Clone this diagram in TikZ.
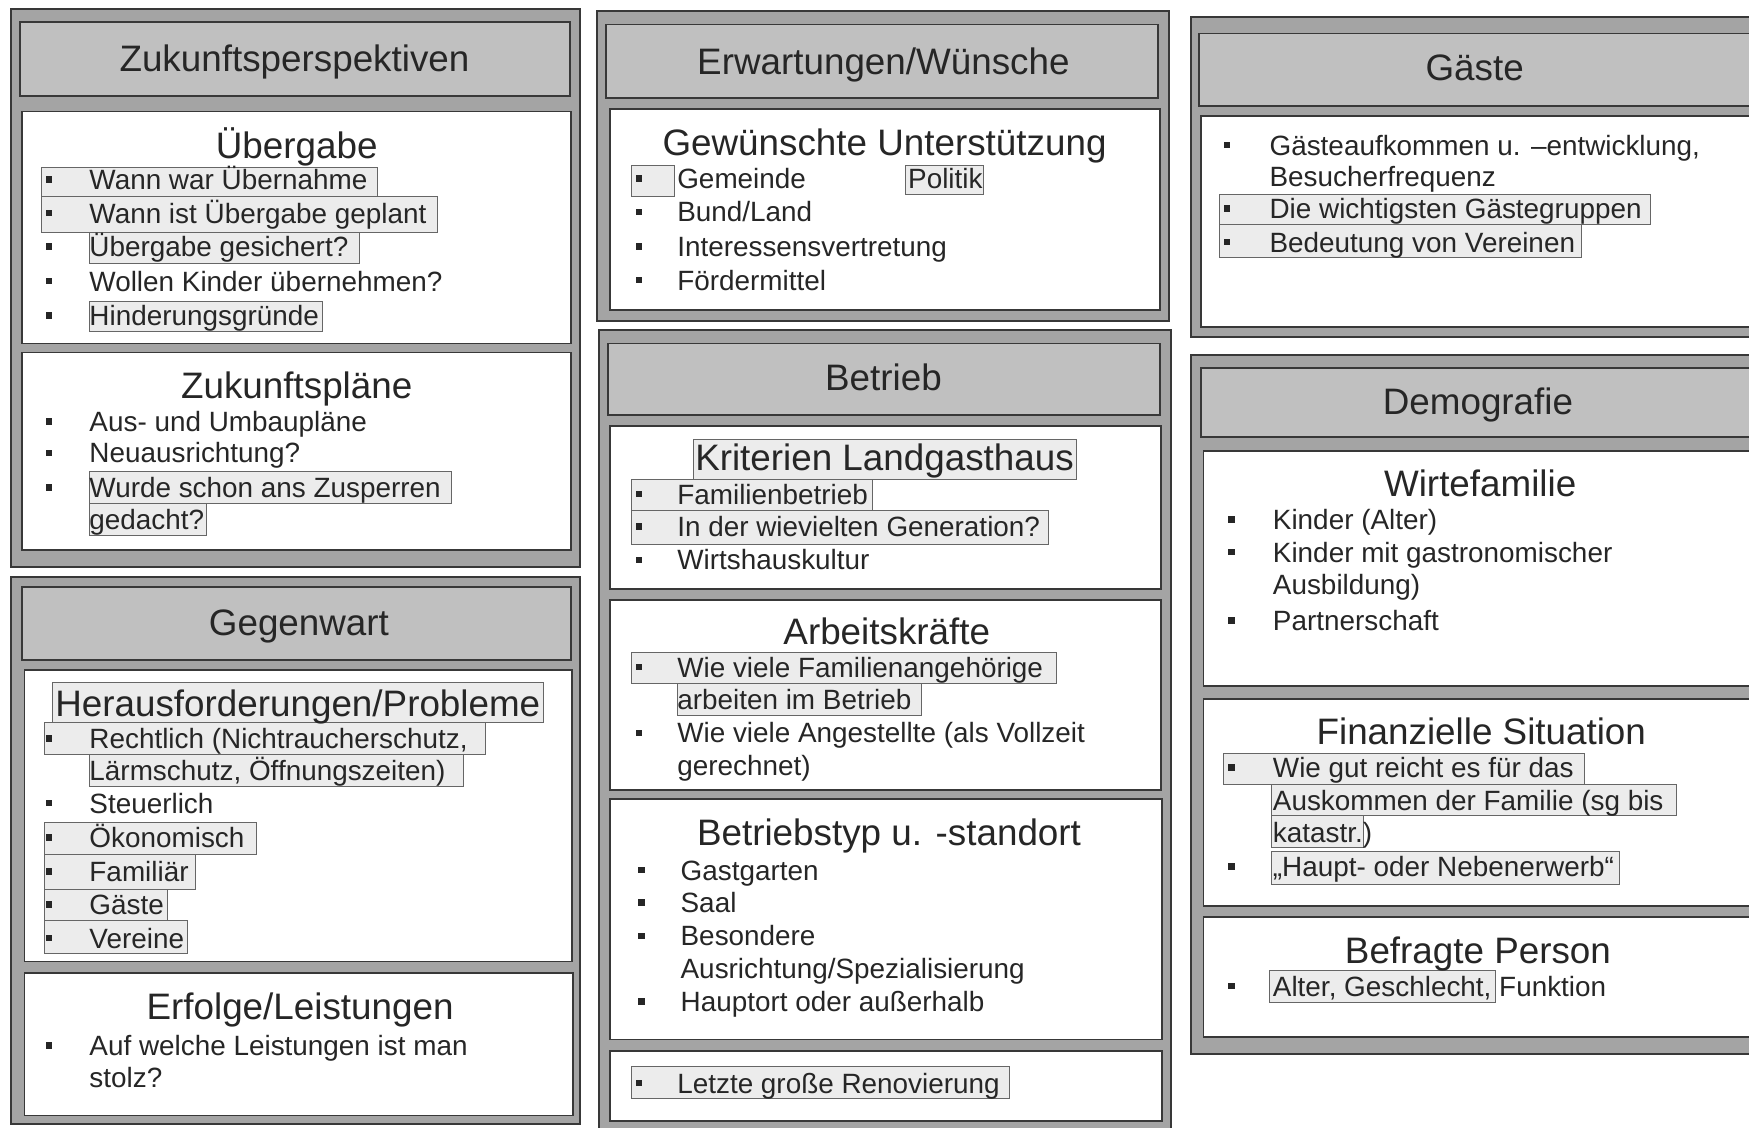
\documentclass[tikz,border=0pt]{standalone}
\usepackage{fontspec}
\setmainfont{Liberation Sans}
\definecolor{panelgray}{HTML}{A4A4A4}
\definecolor{headgray}{HTML}{C0C0C0}
\definecolor{hlgray}{HTML}{ECECEC}
\definecolor{edge}{HTML}{383838}
\newcounter{nc}
\tikzset{
  panel/.style={draw=edge, fill=panelgray, line width=1.6pt},
  headbox/.style={draw=edge, fill=headgray, line width=1.6pt},
  wbox/.style={draw=edge, fill=white, line width=1.6pt},
  hl/.style={draw=black!60, fill=hlgray, line width=0.7pt},
  itemtext/.style={anchor=base west, inner sep=0pt, font=\fontsize{25}{30}\selectfont, text=black!85},
  titletext/.style={anchor=base, inner sep=0pt, font=\fontsize{33}{38}\selectfont, text=black!85},
  bulletsq/.style={rectangle, fill=black!85, minimum size=6pt, inner sep=0pt},
}
\newcommand\ttl[3]{\stepcounter{nc}\node[titletext] (t\arabic{nc}) at (#1,#2+12) {#3};}
\newcommand\itm[4]{\stepcounter{nc}\node[bulletsq] (b\arabic{nc}) at (#1,#3) {};\node[itemtext] (i\arabic{nc}) at (#2,#3+9) {#4};}
\newcommand\cont[3]{\stepcounter{nc}\node[itemtext] (c\arabic{nc}) at (#1,#2+9) {#3};}
\newcommand\hlr[4]{\draw[hl] (#1,#2) rectangle (#3,#4);}
\begin{document}
\begin{tikzpicture}[x=1pt,y=-1pt]
\useasboundingbox (0,0) rectangle (1568,1011);
\fill[white] (0,0) rectangle (1568,1011);
% ---------- column 1 ----------
\draw[panel] (10,8) rectangle (520,508);
\draw[headbox] (18,20) rectangle (511,86);
\draw[wbox] (20,100) rectangle (512,308);
\draw[wbox] (20,316) rectangle (512,493);
\draw[panel] (10,517) rectangle (520,1008);
\draw[headbox] (20,526) rectangle (512,592);
\draw[wbox] (22,601) rectangle (513,862);
\draw[wbox] (22,872) rectangle (514,1000);
% highlights col 1
\hlr{37}{150}{338}{176}
\hlr{37}{176}{392}{208}
\hlr{80}{208}{322}{236}
\hlr{80}{270}{289}{297}
\hlr{80}{423}{405}{451}
\hlr{80}{451}{185}{480}
\hlr{47}{612}{487}{648}
\hlr{40}{648}{435}{676}
\hlr{80}{676}{415}{705}
\hlr{40}{737}{230}{766}
\hlr{40}{766}{175}{797}
\hlr{40}{797}{150}{825}
\hlr{40}{825}{168}{855}
% text col 1
\ttl{264}{52}{Zukunftsperspektiven}
\ttl{266}{130}{Übergabe}
\itm{44}{80}{161}{Wann war Übernahme}
\itm{44}{80}{191}{Wann ist Übergabe geplant}
\itm{44}{80}{221}{Übergabe gesichert?}
\itm{44}{80}{252}{Wollen Kinder übernehmen?}
\itm{44}{80}{283}{Hinderungsgründe}
\ttl{266}{345}{Zukunftspläne}
\itm{44}{80}{378}{Aus- und Umbaupläne}
\itm{44}{80}{406}{Neuausrichtung?}
\itm{44}{80}{437}{Wurde schon ans Zusperren}
\cont{80}{466}{gedacht?}
\ttl{268}{558}{Gegenwart}
\ttl{267}{630}{Herausforderungen/Probleme}
\itm{44}{80}{662}{Rechtlich (Nichtraucherschutz,}
\cont{80}{691}{Lärmschutz, Öffnungszeiten)}
\itm{44}{80}{720}{Steuerlich}
\itm{44}{80}{751}{Ökonomisch}
\itm{44}{80}{781}{Familiär}
\itm{44}{80}{811}{Gäste}
\itm{44}{80}{841}{Vereine}
\ttl{269}{902}{Erfolge/Leistungen}
\itm{44}{80}{937}{Auf welche Leistungen ist man}
\cont{80}{966}{stolz?}
% ---------- column 2 ----------
\draw[panel] (535,10) rectangle (1048,288);
\draw[headbox] (543,22) rectangle (1038,88);
\draw[wbox] (547,98) rectangle (1040,278);
\draw[panel] (537,296) rectangle (1050,1015);
\draw[headbox] (545,308) rectangle (1040,372);
\draw[wbox] (547,382) rectangle (1041,528);
\draw[wbox] (547,538) rectangle (1041,708);
\draw[wbox] (547,716) rectangle (1042,932);
\draw[wbox] (547,942) rectangle (1042,1005);
% highlights col 2
\hlr{566}{148}{605}{176}
\hlr{812}{148}{882}{174}
\hlr{622}{394}{965}{430}
\hlr{566}{430}{782}{458}
\hlr{566}{458}{940}{488}
\hlr{566}{585}{947}{613}
\hlr{607}{613}{826}{641}
\hlr{566}{956}{905}{985}
% text col 2
\ttl{792}{55}{Erwartungen/Wünsche}
\ttl{793}{127}{Gewünschte Unterstützung}
\itm{573}{607}{160}{Gemeinde}
\cont{814}{160}{Politik}
\itm{573}{607}{190}{Bund/Land}
\itm{573}{607}{221}{Interessensvertretung}
\itm{573}{607}{251}{Fördermittel}
\ttl{792}{338}{Betrieb}
\ttl{793}{410}{Kriterien Landgasthaus}
\itm{573}{607}{443}{Familienbetrieb}
\itm{573}{607}{472}{In der wievielten Generation?}
\itm{573}{607}{502}{Wirtshauskultur}
\ttl{795}{566}{Arbeitskräfte}
\itm{573}{607}{598}{Wie viele Familienangehörige}
\cont{607}{627}{arbeiten im Betrieb}
\itm{573}{607}{657}{Wie viele Angestellte (als Vollzeit}
\cont{607}{686}{gerechnet)}
\ttl{797}{746}{Betriebstyp u. -standort}
\itm{575}{610}{780}{Gastgarten}
\itm{575}{610}{809}{Saal}
\itm{575}{610}{839}{Besondere}
\cont{610}{868}{Ausrichtung/Spezialisierung}
\itm{575}{610}{898}{Hauptort oder außerhalb}
\itm{573}{607}{971}{Letzte große Renovierung}
% ---------- column 3 ----------
\draw[panel] (1068,15) rectangle (1580,302);
\draw[headbox] (1075,30) rectangle (1572,95);
\draw[wbox] (1077,104) rectangle (1574,293);
\draw[panel] (1068,318) rectangle (1580,945);
\draw[headbox] (1077,330) rectangle (1574,392);
\draw[wbox] (1079,404) rectangle (1576,615);
\draw[wbox] (1079,627) rectangle (1576,812);
\draw[wbox] (1079,822) rectangle (1576,930);
% highlights col 3
\hlr{1093}{174}{1480}{201}
\hlr{1093}{201}{1418}{231}
\hlr{1097}{675}{1420}{703}
\hlr{1140}{703}{1503}{731}
\hlr{1140}{731}{1222}{760}
\hlr{1140}{763}{1452}{793}
\hlr{1138}{870}{1341}{899}
% text col 3
\ttl{1322}{60}{Gäste}
\itm{1100}{1138}{130}{Gästeaufkommen u. –entwicklung,}
\cont{1138}{158}{Besucherfrequenz}
\itm{1100}{1138}{187}{Die wichtigsten Gästegruppen}
\itm{1100}{1138}{217}{Bedeutung von Vereinen}
\ttl{1325}{360}{Demografie}
\ttl{1327}{433}{Wirtefamilie}
\itm{1104}{1141}{466}{Kinder (Alter)}
\itm{1104}{1141}{495}{Kinder mit gastronomischer}
\cont{1141}{524}{Ausbildung)}
\itm{1104}{1141}{556}{Partnerschaft}
\ttl{1328}{655}{Finanzielle Situation}
\itm{1104}{1141}{688}{Wie gut reicht es für das}
\cont{1141}{718}{Auskommen der Familie (sg bis}
\cont{1141}{746}{katastr.)}
\itm{1104}{1141}{777}{„Haupt- oder Nebenerwerb“}
\ttl{1325}{852}{Befragte Person}
\itm{1104}{1141}{884}{Alter, Geschlecht, Funktion}
\end{tikzpicture}
\end{document}
